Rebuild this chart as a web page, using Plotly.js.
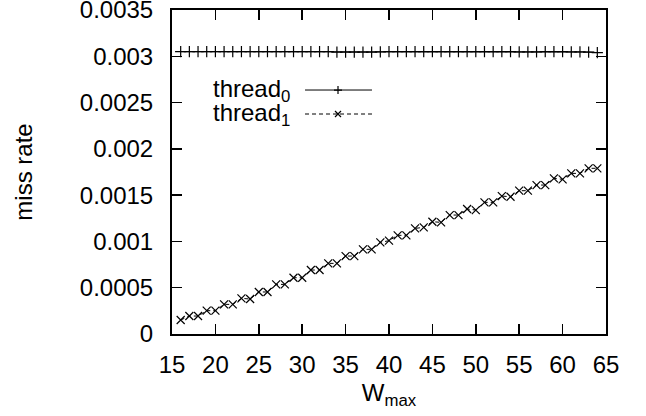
<!DOCTYPE html>
<html>
<head>
<meta charset="utf-8">
<script src="https://cdn.plot.ly/plotly-3.0.1.min.js"></script>
<style>html,body{margin:0;padding:0;background:#fff;}#chart{width:646px;height:416px;}</style>
</head>
<body>
<div id="chart"></div>
<script>
const wmax = [16,17,18,19,20,21,22,23,24,25,26,27,28,29,30,31,32,33,34,35,36,37,38,39,40,41,42,43,44,45,46,47,48,49,50,51,52,53,54,55,56,57,58,59,60,61,62,63,64];
const thread0 = [0.00305,0.00305,0.00305,0.00305,0.00305,0.00305,0.00305,0.00305,0.00305,0.00305,0.00305,0.00305,0.00305,0.00305,0.00305,0.00305,0.00305,0.00305,0.003045,0.003045,0.003045,0.003045,0.003045,0.003048,0.00305,0.00305,0.00305,0.00305,0.00305,0.00305,0.00305,0.00305,0.00305,0.00305,0.00305,0.00305,0.00305,0.00305,0.00305,0.003047,0.003047,0.003047,0.00305,0.00305,0.00305,0.003048,0.003048,0.003046,0.00304];
const thread1 = [0.000151,0.000194,0.000194,0.000252,0.000252,0.00032,0.00032,0.000385,0.000378,0.000454,0.000454,0.000536,0.000536,0.000608,0.000608,0.000691,0.000691,0.000763,0.000763,0.000842,0.000842,0.000915,0.000915,0.00099,0.001008,0.001066,0.001066,0.001141,0.001152,0.001213,0.001206,0.001285,0.001285,0.00135,0.001339,0.001422,0.001422,0.00149,0.001483,0.001548,0.001548,0.001609,0.001609,0.001681,0.001671,0.001735,0.001735,0.00179,0.00179];
const seriesNames = ['thread<sub>0</sub>','thread<sub>1</sub>'];
const xTickVals = [15,20,25,30,35,40,45,50,55,60,65];
const xTickText = ['15','20','25','30','35','40','45','50','55','60','65'];
const yTickVals = [0,0.0005,0.001,0.0015,0.002,0.0025,0.003,0.0035];
const yTickText = ['0','0.0005','0.001','0.0015','0.002','0.0025','0.003','0.0035'];

const FONT = 'Liberation Sans, Arial, sans-serif';
const traces = [
  {x: wmax, y: thread0, mode: 'lines+markers', name: seriesNames[0], showlegend: false,
   line: {color: '#000', width: 1},
   marker: {symbol: 'cross-thin', size: 8, line: {color: '#000', width: 1.2}}},
  {x: wmax, y: thread1, mode: 'lines+markers', name: seriesNames[1], showlegend: false,
   line: {color: '#000', width: 1, dash: '4px,3px'},
   marker: {symbol: 'x-thin', size: 8, line: {color: '#000', width: 1.2}}}
];

// legend (gnuplot style: text left, sample right)
const legY = [0.753, 0.679];
const legTextX = 0.2765, legL0 = 0.3065, legL1 = 0.4608, legM = 0.3825;
const shapes = [
  {type: 'line', xref: 'paper', yref: 'paper', x0: legL0, x1: legL1, y0: legY[0], y1: legY[0], line: {color: '#000', width: 1}},
  {type: 'line', xref: 'paper', yref: 'paper', x0: legL0, x1: legL1, y0: legY[1], y1: legY[1], line: {color: '#000', width: 1, dash: '4px,3px'}},
  {type: 'path', xref: 'paper', yref: 'paper', xsizemode: 'pixel', ysizemode: 'pixel', xanchor: legM, yanchor: legY[0],
   path: 'M-4,0L4,0M0,-4L0,4', line: {color: '#000', width: 1.2}},
  {type: 'path', xref: 'paper', yref: 'paper', xsizemode: 'pixel', ysizemode: 'pixel', xanchor: legM, yanchor: legY[1],
   path: 'M-3,-3L3,3M-3,3L3,-3', line: {color: '#000', width: 1.2}}
];
const annotations = seriesNames.map((n, i) => ({
  text: n, xref: 'paper', yref: 'paper', x: legTextX, y: legY[i], xanchor: 'right', yanchor: 'middle',
  showarrow: false, font: {family: FONT, size: 24, color: '#000'}
}));

const layout = {
  width: 646, height: 416,
  margin: {l: 172, r: 40, t: 10, b: 82},
  paper_bgcolor: '#fff', plot_bgcolor: '#fff',
  font: {family: FONT, size: 24, color: '#000'},
  showlegend: false,
  xaxis: {
    range: [15, 65], tickvals: xTickVals, ticktext: xTickText,
    ticks: 'inside', ticklen: 10, tickwidth: 1.5, tickcolor: '#000',
    showline: true, linecolor: '#000', linewidth: 2, mirror: 'ticks',
    showgrid: false, zeroline: false,
    tickfont: {family: FONT, size: 24, color: '#000'},
    ticklabelstandoff: 8, ticklabeloverflow: 'allow',
    title: {text: 'W<sub>max</sub>', font: {family: FONT, size: 24, color: '#000'}, standoff: 7}
  },
  yaxis: {
    range: [0, 0.0035], tickvals: yTickVals, ticktext: yTickText,
    ticks: 'inside', ticklen: 10, tickwidth: 1.5, tickcolor: '#000',
    showline: true, linecolor: '#000', linewidth: 2, mirror: 'ticks',
    showgrid: false, zeroline: false,
    tickfont: {family: FONT, size: 24, color: '#000'},
    ticklabelstandoff: 12, ticklabeloverflow: 'allow',
    title: {text: 'miss rate', font: {family: FONT, size: 24, color: '#000'}, standoff: 40}
  },
  shapes: shapes,
  annotations: annotations
};
Plotly.newPlot('chart', traces, layout, {staticPlot: true, displayModeBar: false});
</script>
</body>
</html>
